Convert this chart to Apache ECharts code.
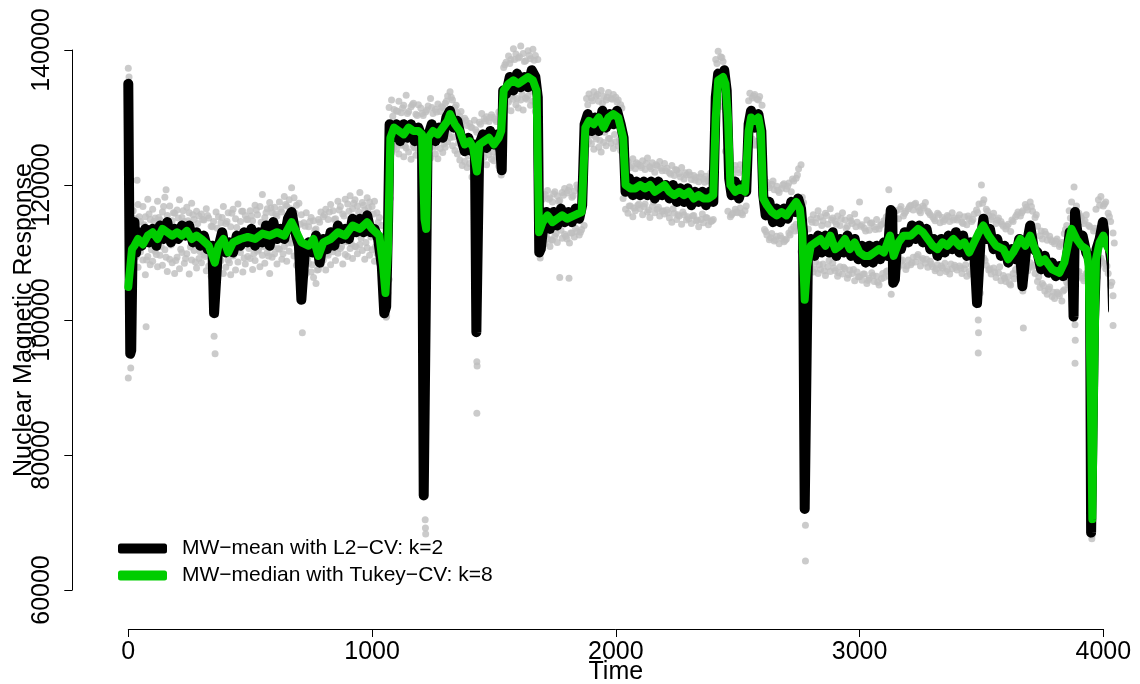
<!DOCTYPE html>
<html><head><meta charset="utf-8">
<script src="https://cdn.jsdelivr.net/npm/echarts@6/dist/echarts.min.js"></script>
<style>html,body{margin:0;padding:0;background:#fff}#c{width:1140px;height:684px}</style>
</head><body><div id="c"></div>
<script>
// ---- data (values in thousands) ----
const xTicks = [0, 1000, 2000, 3000, 4000];
const yTicks = [60000, 80000, 100000, 120000, 140000];
const legendNames = ['MW\u2212mean with L2\u2212CV: k=2', 'MW\u2212median with Tukey\u2212CV: k=8'];
const greyStart = 0, greyStep = 10, greyMidStart = 5;
const greyHi = [
137.3,113.5,116.2,115.0,117.1,114.6,116.8,115.3,117.9,114.9,
116.4,115.1,117.6,114.8,116.0,118.2,115.5,116.9,114.7,115.8,
116.3,117.8,115.2,114.6,116.7,115.9,117.3,114.9,116.1,115.4,
115.7,114.8,116.5,115.1,113.9,114.6,116.0,115.3,114.4,116.8,
114.3,115.9,113.8,116.4,115.0,117.2,114.6,116.1,115.5,114.9,
116.2,114.7,117.0,115.6,116.8,118.6,115.2,116.5,117.4,115.9,
116.7,115.4,117.5,116.0,118.3,116.9,117.8,119.6,118.1,117.0,
117.3,115.6,114.4,115.9,113.8,115.2,114.7,113.5,114.9,116.0,
115.3,116.4,114.9,117.1,116.2,115.0,117.6,116.8,115.7,117.9,
117.2,118.4,116.5,117.8,116.9,118.9,117.4,116.3,118.1,117.5,
116.8,117.6,115.9,115.2,114.0,112.3,109.5,131.5,132.6,131.2,
131.0,132.4,130.7,131.8,133.3,130.9,131.6,132.1,130.5,131.9,
131.4,130.3,130.8,131.7,132.8,130.6,131.2,132.0,130.9,131.5,
132.1,133.2,133.8,132.6,131.5,130.7,130.2,129.4,129.9,128.8,
129.1,128.5,129.6,127.8,129.3,130.6,129.8,130.1,129.4,130.4,
130.0,129.4,130.8,131.2,137.4,138.2,139.1,138.6,140.2,139.4,
138.8,140.6,139.5,138.4,139.9,138.7,140.1,139.2,138.6,117.6,
117.9,118.6,119.2,118.1,117.5,119.0,118.4,117.7,118.9,119.5,
118.8,119.7,118.2,119.1,120.0,119.4,118.6,126.0,132.8,133.5,
132.9,133.8,133.2,132.4,134.0,133.1,132.6,133.7,132.8,133.4,
133.0,132.6,131.9,125.0,122.8,123.5,122.6,123.9,122.4,123.1,
122.9,123.6,122.3,124.0,122.7,123.3,121.9,122.8,123.5,122.1,
123.2,122.5,121.8,122.9,121.4,122.2,121.7,122.6,120.9,121.5,
121.9,120.8,121.4,121.1,120.5,121.7,120.9,121.3,120.6,121.8,
122.0,138.6,139.8,139.0,138.3,131.0,122.6,122.0,121.6,122.9,
122.3,123.0,122.1,121.7,127.0,133.6,132.9,133.4,132.7,133.1,
131.8,121.0,120.4,119.6,120.1,119.3,119.8,118.9,119.5,120.2,
119.4,120.3,119.0,120.6,121.0,122.4,123.0,117.4,112.3,113.5,
114.9,115.6,114.4,116.2,115.3,114.7,115.8,114.2,116.5,115.1,
114.6,115.4,114.0,115.9,114.8,113.9,115.2,114.3,115.7,114.5,
117.5,114.1,113.6,114.8,113.3,114.4,113.8,114.9,113.5,114.2,
114.7,115.3,119.3,116.4,115.6,116.2,115.0,116.8,115.4,116.1,
116.5,117.0,116.3,117.3,116.7,115.9,116.9,117.4,116.1,115.6,
115.3,114.7,115.8,114.4,115.2,114.9,115.5,114.6,115.9,115.1,
114.8,115.6,114.5,115.3,114.1,115.0,114.6,115.7,116.3,117.2,
120.0,117.8,116.4,115.5,114.9,115.8,114.3,115.1,114.6,113.9,
113.5,114.2,113.1,114.6,115.3,116.0,115.4,116.2,117.1,116.3,
117.5,116.1,115.2,113.9,112.5,112.0,113.1,111.8,112.4,111.6,
111.3,112.0,110.9,111.5,112.8,114.0,116.2,117.5,119.7,116.9,
115.8,115.1,114.3,115.6,114.0,109.0,113.2,116.4,117.8,118.3,
116.9,117.5,115.8,114.6,112.9];
const greyLo = [
91.4,92.9,108.6,109.3,107.8,110.1,108.9,106.7,109.4,108.2,
108.7,110.2,107.9,109.6,108.1,110.4,107.2,109.0,108.5,106.9,
109.3,107.6,110.0,108.4,109.8,106.8,108.9,110.3,107.7,109.1,
108.5,109.7,107.3,108.0,106.5,104.5,109.2,107.6,108.8,106.9,
107.8,108.9,106.7,109.5,107.4,108.6,110.0,107.1,108.3,109.4,
109.1,107.5,108.8,110.2,107.9,109.6,108.4,110.0,106.9,109.3,
109.8,108.3,110.5,109.0,110.9,108.7,110.2,111.4,109.5,108.1,
106.0,104.2,107.8,106.9,108.4,107.1,106.3,105.4,107.5,108.2,
108.9,107.4,109.6,108.2,110.1,108.8,109.9,110.6,108.3,109.7,
109.4,110.6,109.1,110.9,109.8,111.2,110.3,109.0,110.7,109.6,
110.4,108.7,109.9,108.5,107.1,102.0,100.6,106.0,124.8,125.6,
125.3,124.6,125.9,124.2,125.5,124.9,123.8,125.7,124.4,125.1,
124.7,124.3,123.5,125.2,124.0,125.8,124.6,123.9,125.4,124.8,
125.6,126.4,127.0,125.8,125.1,124.6,123.7,122.9,123.5,122.6,
123.2,121.2,121.4,116.0,122.7,123.4,124.1,123.0,124.5,123.8,
123.6,124.2,122.8,121.5,130.8,131.6,132.3,131.0,132.7,131.9,
131.4,132.6,131.1,132.9,133.2,131.8,132.4,130.9,131.2,109.2,
110.6,111.3,112.0,110.9,111.8,112.4,111.5,106.3,112.1,112.7,
112.0,111.4,112.9,112.3,113.1,112.6,113.4,114.0,125.9,126.5,
126.1,125.3,126.8,125.6,124.9,126.3,125.8,126.9,126.2,125.4,
126.4,125.8,125.1,118.0,116.4,115.8,116.9,115.3,116.2,117.0,
116.5,115.6,117.2,116.0,115.2,116.8,115.9,116.4,115.4,116.1,
115.7,116.3,115.1,114.5,115.8,114.9,115.4,114.2,115.6,114.8,
115.0,114.3,115.5,114.7,113.8,114.9,114.4,115.2,114.1,114.6,
114.9,132.2,133.1,132.4,131.6,125.0,116.1,115.3,115.8,116.4,
115.9,116.6,115.6,116.2,120.5,126.1,126.8,125.9,126.5,125.7,
124.9,113.4,112.6,111.9,112.8,111.7,112.4,111.3,112.1,111.6,
112.0,112.9,113.4,113.8,114.2,113.3,110.1,104.6,100.8,106.4,
107.8,107.1,108.6,106.9,107.5,108.3,106.6,107.9,107.2,108.5,
107.3,106.5,107.9,106.8,107.6,106.2,107.4,106.9,105.8,107.1,
106.4,105.9,106.8,105.4,106.2,107.0,105.7,106.5,105.2,106.1,
106.3,107.2,106.5,103.8,107.6,108.4,107.9,108.7,108.1,107.5,
108.9,108.2,109.3,108.6,109.7,108.0,109.1,108.4,107.8,108.7,
107.9,107.3,108.2,107.0,107.7,108.4,107.5,106.8,107.6,108.1,
107.4,108.0,106.9,107.6,106.5,107.2,108.1,107.5,106.4,105.3,
108.6,109.2,108.1,107.4,106.8,107.7,106.3,107.0,105.8,106.6,
105.7,106.4,105.2,106.9,107.5,108.2,107.6,104.3,108.0,107.3,
108.5,107.8,106.9,105.7,104.8,105.4,104.3,103.8,104.9,103.5,
103.2,104.1,103.6,102.8,104.5,105.6,106.8,107.4,105.0,106.1,
107.2,106.5,105.8,106.9,105.3,105.0,104.8,107.1,108.0,109.2,
108.4,107.6,106.9,105.1,103.6];
const greyMid = [
102.5,110.2,114.8,109.6,115.3,110.8,114.1,108.9,115.7,110.4,
114.6,109.7,115.2,110.9,116.8,109.3,114.4,111.1,115.9,108.8,
115.1,110.5,116.2,109.1,114.7,110.8,115.6,108.6,114.3,110.1,
114.9,109.4,115.5,110.6,113.8,106.9,113.6,109.8,115.2,110.3,
114.6,108.5,115.8,109.9,113.7,110.7,116.1,109.2,114.9,110.6,
115.4,109.8,116.3,110.4,114.5,110.9,115.9,109.5,116.6,110.8,
115.7,110.6,116.4,109.8,117.1,111.4,116.5,112.0,115.8,110.7,
114.2,108.4,113.9,109.1,114.6,108.2,113.3,107.4,114.5,109.5,
115.6,109.8,116.0,110.5,114.9,111.2,116.3,110.9,115.4,111.6,
116.1,111.3,117.3,110.8,116.0,112.1,117.0,111.5,116.6,112.3,
115.7,110.9,114.5,109.6,111.8,106.1,104.0,118.0,130.2,126.3,
130.9,126.2,131.4,125.8,130.6,126.7,131.9,125.5,130.3,126.9,
130.6,125.9,131.1,126.4,131.5,125.6,130.8,126.8,131.6,126.1,
132.4,127.6,133.0,127.1,131.8,126.2,130.9,125.4,129.6,124.3,
128.6,123.9,128.2,124.5,129.0,124.7,129.5,125.2,130.0,124.9,
129.7,125.3,130.4,124.6,137.8,132.4,138.0,133.2,138.6,132.8,
139.0,133.5,138.3,132.7,139.2,133.9,138.5,133.0,117.5,110.5,
118.3,112.6,117.9,111.9,118.7,112.8,117.6,113.3,118.5,112.4,
119.2,112.9,118.4,113.6,119.6,113.0,118.8,127.0,131.9,127.4,
132.5,127.2,133.4,126.6,132.1,127.8,133.0,126.9,132.7,127.5,
132.3,126.7,131.4,121.0,122.0,116.9,122.9,116.6,123.3,117.2,
122.6,116.8,123.2,116.3,122.4,117.5,123.0,116.7,122.5,116.2,
122.1,115.9,121.6,116.5,122.3,115.6,121.2,116.0,121.8,115.3,
121.5,115.4,120.7,114.8,121.2,115.7,120.4,115.1,121.0,114.7,
130.0,138.0,133.0,138.9,132.8,133.5,121.7,115.6,122.3,116.0,
121.8,115.8,122.6,116.9,132.5,126.5,133.2,126.0,132.6,126.3,
120.5,113.1,119.9,112.2,120.6,111.9,119.2,112.5,120.0,111.8,
119.8,112.6,120.9,113.2,121.5,113.9,118.2,108.0,106.5,108.2,
114.5,107.6,115.1,108.2,114.0,107.3,115.5,108.8,114.8,107.7,
114.2,107.0,115.0,107.8,113.6,106.7,114.7,107.5,113.8,106.4,
113.9,106.8,113.2,105.9,114.3,106.6,113.4,105.6,114.0,106.9,
114.4,107.3,116.0,107.0,115.1,108.2,116.4,108.9,115.8,108.0,
116.8,108.5,117.1,109.4,116.2,108.9,116.6,109.0,115.9,108.3,
115.0,107.6,115.6,108.0,114.6,107.2,115.3,108.3,114.8,107.8,
115.1,107.7,114.3,108.2,115.4,106.8,114.9,107.4,115.9,104.0,
117.3,108.8,116.1,107.6,115.3,107.1,114.8,107.9,114.2,106.2,
113.9,105.4,114.8,106.1,115.6,107.3,115.9,106.8,116.7,107.9,
116.8,108.1,115.6,106.4,113.2,105.1,112.7,104.6,111.9,104.1,
111.7,103.9,111.2,104.3,113.4,105.2,115.1,106.5,115.6,107.0,
115.4,106.2,114.7,106.6,113.8,104.5,113.6,106.3,117.0,108.7,
117.2,108.0,115.3,105.6,111.4];
const greyOut = [[3,136.0],[36,120.7],[155,119.3],[73,99.0],[356,95.0],[352,97.6],[714,98.1],[1058,100.4],[1218,70.4],[1219,69.2],[1220,68.3],
[1430,93.8],[1431,93.2],[1430,86.2],[1808,106.2],[2778,69.6],[2778,64.3],[3487,100.0],[3488,98.1],[3487,95.1],
[3672,98.8],[3884,99.3],[3885,97.0],[3884,93.6],[3953,67.6],[3954,68.1],[4040,99.2]];
const meanLine = [[0,135],[3,135],[8,95],[12,95.5],[18,112],[25,114.5],[32,110],[40,113],[55,111],[70,113.5],[85,111.5],[100,113.5],[115,111],[130,114],[145,112],[160,114.5],[175,111.5],[190,113.5],[205,112],[220,114],[235,112.5],[250,114],[265,111.5],[280,113],[295,111],[310,112.5],[325,110.5],[345,111],[352,101],[360,101],[368,110.5],[385,113],[400,110],[415,111.5],[430,110],[445,112.5],[460,111],[475,113],[490,111.5],[505,113.5],[520,111],[535,113],[550,111.5],[565,114],[580,111],[595,114.5],[610,112],[625,113.5],[640,112],[655,115],[670,116],[685,113],[700,111],[710,103],[718,103],[725,110.5],[740,111.5],[755,110],[770,112.5],[785,108.5],[800,112],[815,110.5],[830,113],[845,111],[860,114],[875,112],[890,113.5],[905,112],[920,115],[935,113],[950,115],[965,113],[980,115.5],[995,113],[1010,113.5],[1025,112],[1040,108],[1050,101],[1058,102],[1066,115],[1072,129],[1085,127],[1100,129],[1115,126.5],[1130,129],[1145,127],[1160,129],[1175,126.5],[1190,128.5],[1205,127],[1212,74],[1220,74],[1228,127],[1245,129],[1260,126.5],[1275,128.5],[1290,127],[1305,130],[1320,131],[1335,128.5],[1350,129.5],[1365,127],[1380,125],[1395,127],[1410,125],[1422,126],[1428,98.2],[1434,98.2],[1440,126],[1455,127.5],[1470,125.5],[1485,128],[1500,126],[1515,127.5],[1527,125],[1532,122.2],[1538,134],[1550,133.5],[1565,136],[1580,134],[1595,136.5],[1610,134.5],[1625,136],[1640,134.5],[1655,137],[1670,136],[1680,133],[1686,110],[1692,110.5],[1700,113],[1715,116],[1730,113.5],[1745,116],[1760,114],[1775,116.5],[1790,114.5],[1805,116],[1820,114.5],[1835,116.5],[1850,115],[1862,117],[1872,129],[1885,130.5],[1900,128],[1915,130],[1930,128],[1945,131],[1960,128.5],[1975,130.5],[1990,129],[2005,131],[2020,129],[2032,127],[2040,119],[2055,121],[2070,118.5],[2085,120.5],[2100,118.5],[2115,120.5],[2130,118.5],[2145,120.5],[2160,118],[2175,120.5],[2190,118.5],[2205,120],[2220,118],[2235,120],[2250,117.5],[2265,119.5],[2280,117.5],[2295,119.5],[2310,117],[2325,119],[2340,117.5],[2355,119],[2370,117],[2385,119],[2400,117.5],[2410,133],[2420,136.5],[2435,135],[2445,137],[2455,134],[2465,121],[2475,118.5],[2490,120.5],[2505,118],[2520,120],[2535,119],[2545,129],[2555,131],[2570,128.5],[2585,130.5],[2597,128],[2605,118.5],[2615,115.5],[2630,117.5],[2645,114.5],[2660,116.5],[2675,114.5],[2690,116.5],[2705,115],[2720,117.5],[2735,116],[2748,118],[2760,116.5],[2768,113],[2775,72],[2781,72],[2788,109],[2800,112],[2815,109.5],[2830,112.5],[2845,110],[2860,112.5],[2875,110],[2890,113],[2905,109.5],[2920,112],[2935,110],[2950,112.5],[2965,109.5],[2980,112],[2995,109],[3010,111],[3025,108.5],[3040,111],[3055,108.5],[3070,111],[3085,109],[3100,111.5],[3115,109.5],[3128,116.3],[3134,116],[3138,105.5],[3145,106],[3155,112],[3170,110.5],[3185,113],[3200,111.5],[3215,114],[3230,112],[3245,114],[3260,111.5],[3275,113.5],[3290,110.5],[3305,112],[3320,109.5],[3335,112],[3350,110],[3365,112.5],[3380,110.5],[3395,113],[3410,110],[3425,112.5],[3440,109.5],[3455,111.5],[3470,110.5],[3482,102.5],[3490,102.5],[3497,112],[3508,115],[3520,112],[3535,113.5],[3550,110.5],[3565,112],[3580,109.5],[3595,111],[3610,108.5],[3625,110.5],[3640,109],[3655,112],[3668,105],[3675,105],[3685,111],[3700,114],[3715,110.5],[3730,110],[3745,107.5],[3760,109.5],[3775,107],[3790,108.5],[3805,106.5],[3820,108],[3835,106.5],[3850,109],[3862,113],[3872,110],[3878,100.5],[3884,116],[3890,114],[3900,111.5],[3915,112.5],[3930,110],[3945,109],[3950,68.5],[3956,68.5],[3962,100],[3972,110.5],[3985,112],[3998,114.5],[4010,111.5],[4022,112],[4035,108],[4040,101.5],[4046,102]];
const medianLine = [[0,104.9],[8,105],[15,110.5],[25,111],[40,112],[60,111.2],[80,112.5],[100,113],[120,112],[140,113.5],[160,113],[180,112.5],[200,113],[220,112.5],[240,113.2],[260,112],[280,112.5],[300,112],[330,111],[355,108.5],[370,111],[390,112],[410,110],[430,111.5],[460,112],[490,112.3],[520,112],[550,112.8],[580,112.5],[610,113],[640,112.5],[670,114.5],[690,113],[710,111.5],[740,111],[760,112],[780,109.5],[800,111.5],[830,112],[860,113],[890,112.5],[920,114],[950,113.5],[980,114.5],[1000,113.5],[1030,112.5],[1045,108],[1055,104],[1065,110],[1075,127],[1090,128.5],[1110,128],[1130,127.5],[1150,128.5],[1170,128],[1190,128],[1205,127.5],[1215,115],[1222,113.5],[1230,127],[1250,128],[1270,127.5],[1290,128.5],[1310,129.5],[1320,130.5],[1340,129],[1360,128],[1380,126],[1400,126.5],[1415,125.5],[1430,122],[1440,126],[1460,126.5],[1480,127],[1500,126],[1520,127],[1530,128],[1540,134],[1560,135],[1580,135.5],[1600,135],[1620,135.5],[1640,136],[1660,135.5],[1675,134],[1685,113],[1700,114.5],[1720,115.5],[1740,114.5],[1760,115],[1780,115.5],[1800,115],[1830,115.5],[1860,116],[1875,128.5],[1890,129.5],[1910,129],[1930,130],[1950,128.5],[1970,130],[1990,130.5],[2010,130],[2030,127],[2040,120],[2060,119.5],[2080,119.5],[2100,120],[2120,119.5],[2140,120],[2160,119],[2180,119.5],[2200,120],[2220,119],[2240,118.5],[2260,119],[2280,118.5],[2300,119],[2320,118],[2340,118.5],[2360,118],[2380,118],[2400,118.5],[2410,130],[2420,135.5],[2440,136],[2450,135],[2460,130],[2470,120],[2490,119],[2510,119.5],[2530,119],[2545,128],[2555,130],[2570,129.5],[2585,130],[2595,128],[2605,118],[2620,117],[2640,116],[2660,115.5],[2680,116],[2700,115.5],[2720,116.5],[2740,117.5],[2755,116.5],[2765,113],[2775,103],[2785,108],[2800,111],[2820,111.5],[2840,112],[2860,111],[2880,112.5],[2900,110.5],[2920,111],[2940,112],[2960,110.5],[2980,111.5],[3000,110],[3020,109.5],[3040,109.5],[3060,110],[3080,110.5],[3100,110],[3125,112.5],[3140,109.5],[3160,111.5],[3180,112.5],[3210,112.5],[3240,113.5],[3260,113],[3280,112],[3300,111],[3320,110.5],[3340,111.5],[3360,111],[3385,112],[3410,111],[3430,111.5],[3450,110],[3470,111.5],[3490,113],[3508,114],[3530,112.5],[3560,111],[3590,110.5],[3610,109],[3630,110],[3660,112],[3680,111],[3700,112.5],[3720,110.5],[3740,108.5],[3760,109],[3790,107.5],[3820,107],[3840,108.5],[3860,112],[3870,113.5],[3890,112],[3910,111],[3930,110.5],[3940,108],[3950,85],[3955,70.5],[3962,90],[3970,109],[3985,111.5],[4000,112.5],[4015,111],[4030,110],[4045,106]];

// ---- build ----
const K = 1000;
const greyPts = greyHi.map((v,i)=>[greyStart+i*greyStep, v*K])
  .concat(greyLo.map((v,i)=>[greyStart+i*greyStep, v*K]))
  .concat(greyMid.map((v,i)=>[greyMidStart+i*greyStep, v*K]))
  .concat(greyOut.map(p=>[p[0], p[1]*K]));
const scale = a => a.map(p=>[p[0], p[1]*K]);
const FONT = 'Liberation Sans, Arial, sans-serif';
const chart = echarts.init(document.getElementById('c'), null, {renderer:'canvas'});
chart.setOption({
  animation:false,
  backgroundColor:'#fff',
  grid:{left:128.3, right:36.7, top:50, bottom:94, containLabel:false, outerBoundsMode:'none'},
  legend:{
    orient:'vertical', left:118, top:538, padding:0, itemWidth:49, itemHeight:10, itemGap:6,
    icon:'roundRect',
    data:[{name:legendNames[0]},{name:legendNames[1]}],
    textStyle:{fontFamily:FONT, fontSize:21, color:'#000', lineHeight:20, padding:[0,0,0,10]}
  },
  xAxis:{
    type:'value', min:xTicks[0], max:xTicks[xTicks.length-1], interval:1000, offset:39,
    axisLine:{show:true, onZero:false, lineStyle:{color:'#000', width:1}},
    axisTick:{show:true, length:8, inside:false, lineStyle:{color:'#000'}},
    axisLabel:{fontFamily:FONT, fontSize:25, color:'#000', margin:23, verticalAlign:'middle', formatter:v=>String(v)},
    splitLine:{show:false},
    name:'Time', nameLocation:'middle', nameGap:31, nameMoveOverlap:false,
    nameTextStyle:{fontFamily:FONT, fontSize:25, color:'#000', verticalAlign:'top'}
  },
  yAxis:{
    type:'value', min:yTicks[0], max:yTicks[yTicks.length-1], interval:20000, offset:56,
    axisLine:{show:true, onZero:false, lineStyle:{color:'#000', width:1}},
    axisTick:{show:true, length:8, inside:false, lineStyle:{color:'#000'}},
    axisLabel:{fontFamily:FONT, fontSize:25, color:'#000', rotate:90, margin:30, align:'center', verticalAlign:'middle', formatter:v=>String(v)},
    splitLine:{show:false},
    name:'Nuclear Magnetic Response', nameLocation:'middle', nameGap:48, nameRotate:90, nameMoveOverlap:false,
    nameTextStyle:{fontFamily:FONT, fontSize:25, color:'#000', verticalAlign:'middle'}
  },
  series:[
    {type:'scatter', data:greyPts, symbol:'circle', symbolSize:7, itemStyle:{color:'#BEBEBE'}, clip:false, silent:true, z:1},
    {name:legendNames[0], type:'line', data:scale(meanLine), showSymbol:false, symbol:'none', clip:false,
     lineStyle:{color:'#000', width:10, cap:'round', join:'round'}, itemStyle:{color:'#000'}, z:2},
    {name:legendNames[1], type:'line', data:scale(medianLine), showSymbol:false, symbol:'none', clip:false,
     lineStyle:{color:'#00CD00', width:8, cap:'round', join:'round'}, itemStyle:{color:'#00CD00'}, z:3}
  ]
});
</script></body></html>
